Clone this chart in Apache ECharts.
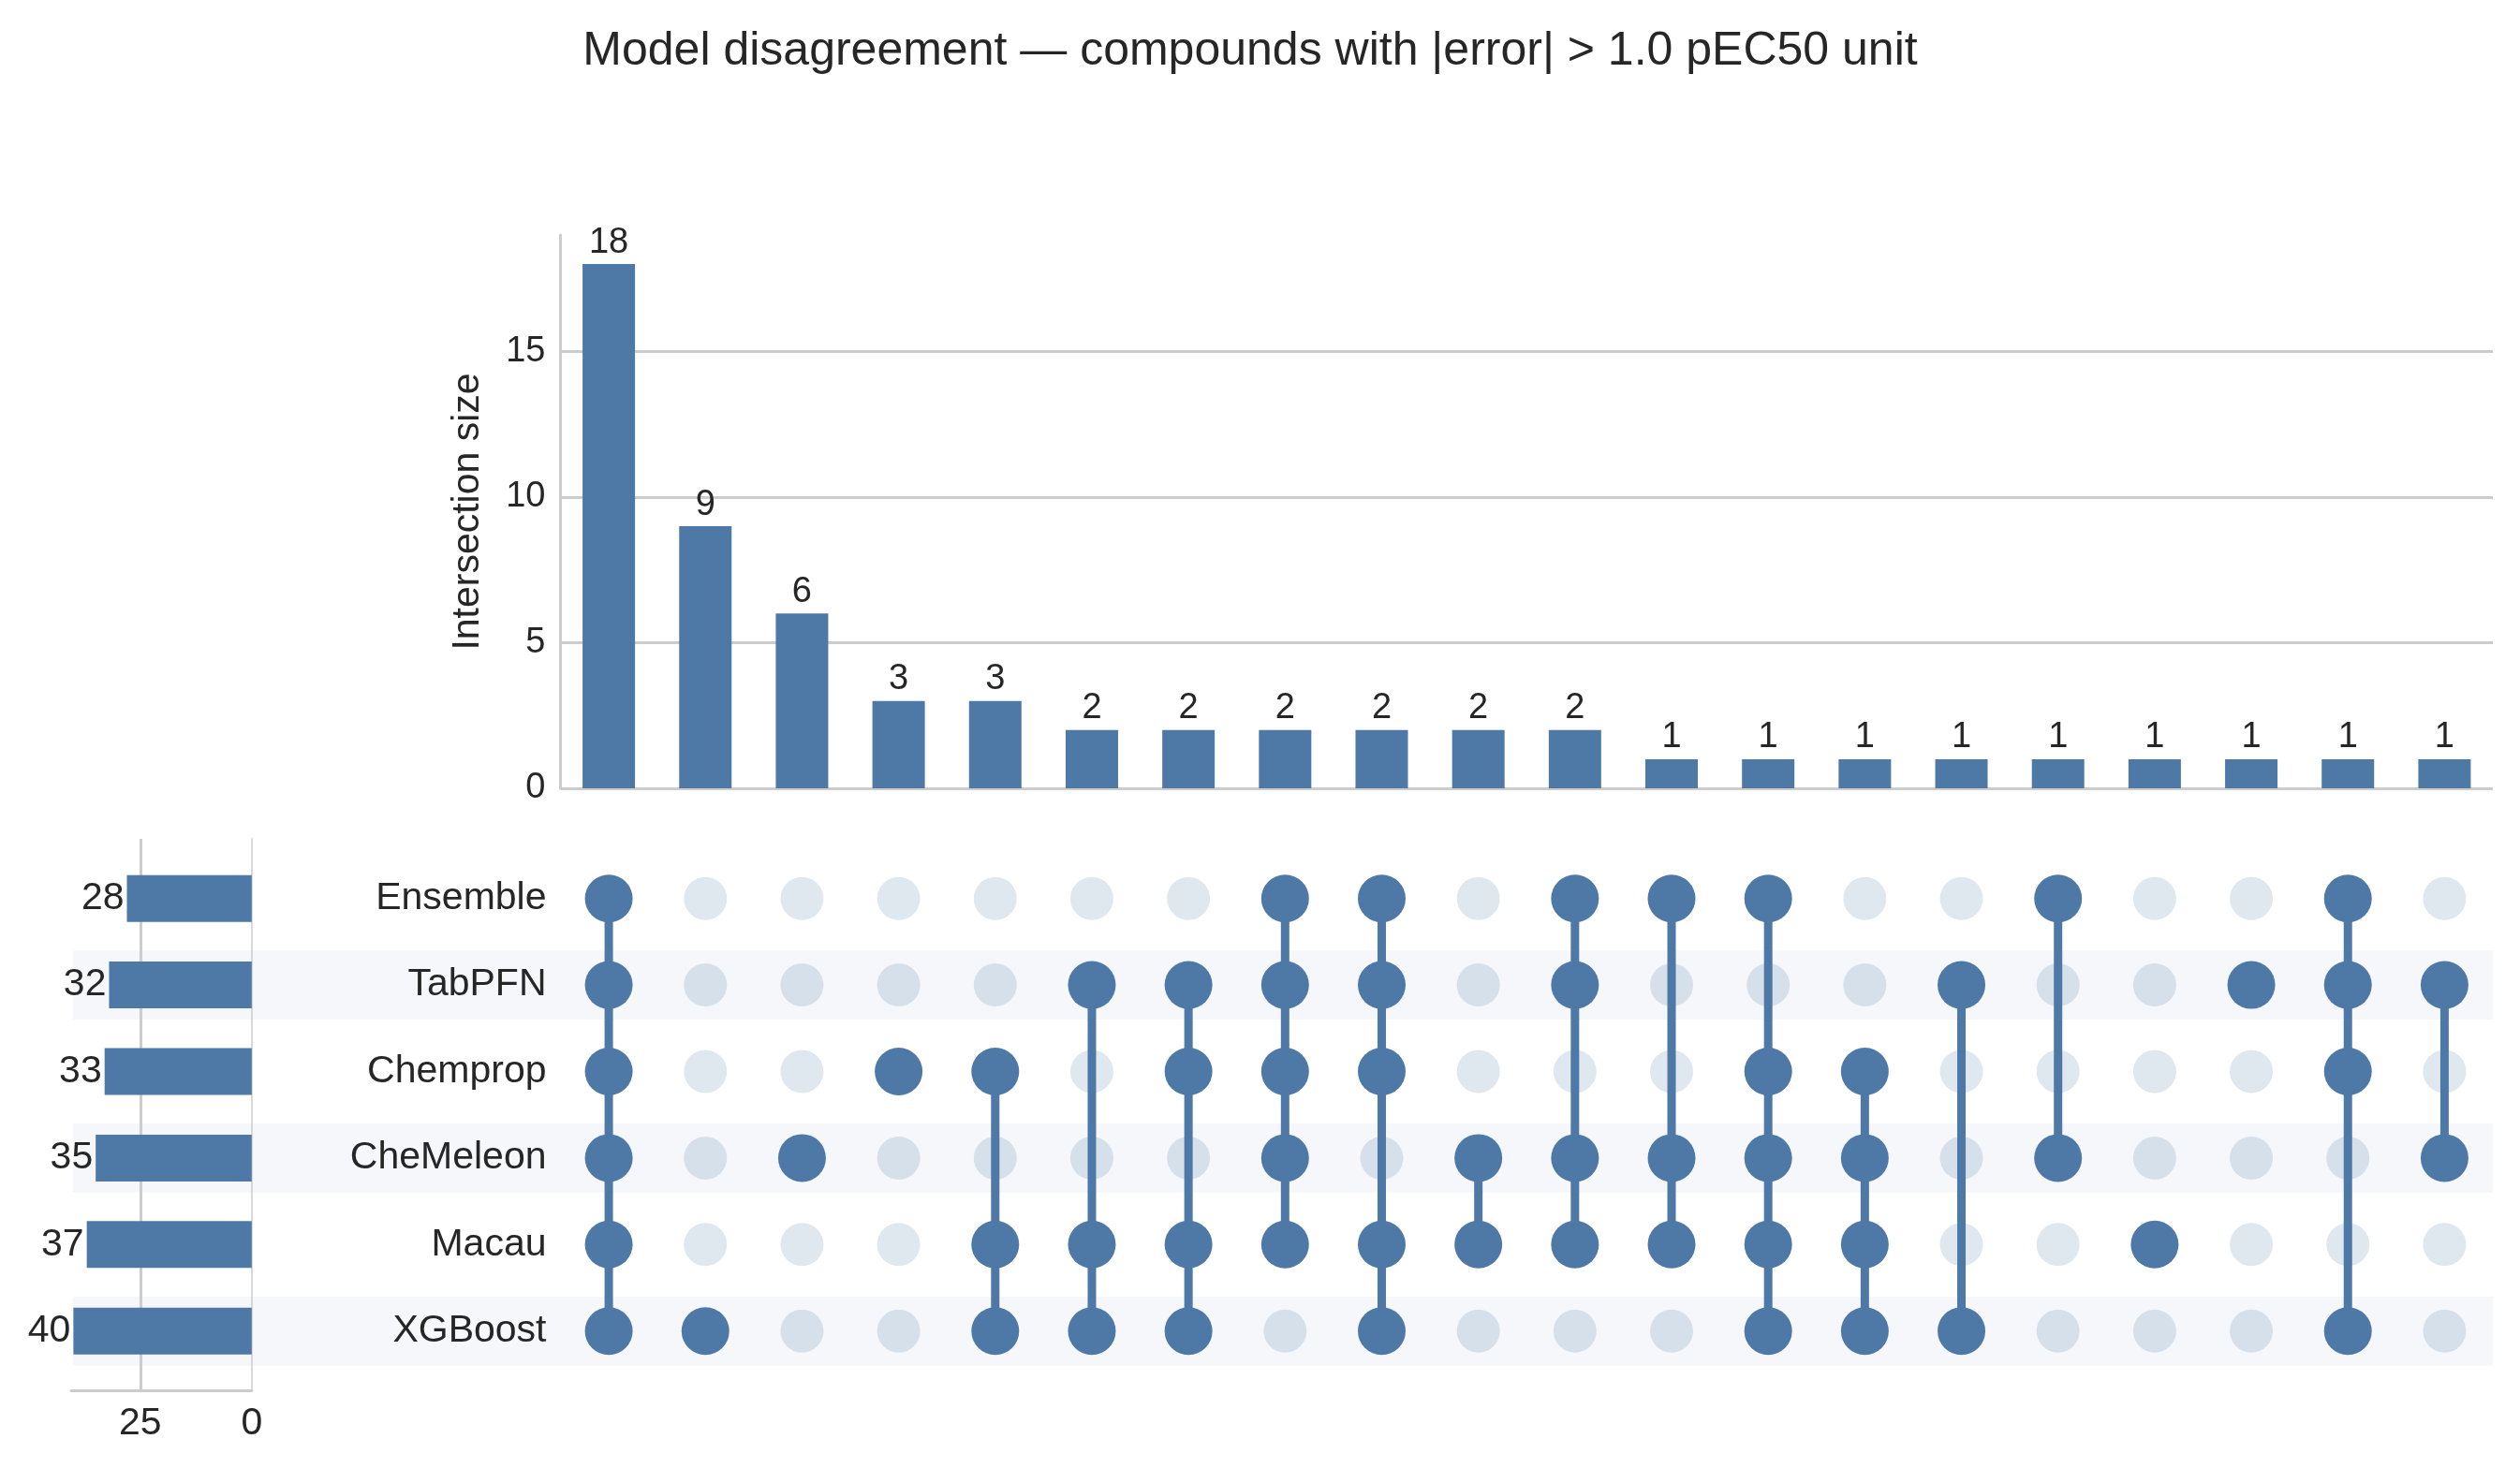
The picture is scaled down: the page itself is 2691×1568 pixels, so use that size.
<!DOCTYPE html>
<html>
<head>
<meta charset="utf-8">
<title>Model disagreement</title>
<script src="https://cdn.jsdelivr.net/npm/echarts@6/dist/echarts.min.js"></script>
<style>
html, body { margin: 0; padding: 0; background: #fff; }
#chart { width: 2691px; height: 1568px; }
</style>
</head>
<body>
<div id="chart"></div>
<script>
// sets, top to bottom in the matrix
var sets = ['Ensemble', 'TabPFN', 'Chemprop', 'CheMeleon', 'Macau', 'XGBoost'];
var setSizes = [28, 32, 33, 35, 37, 40];
var intersectionSizes = [18, 9, 6, 3, 3, 2, 2, 2, 2, 2, 2, 1, 1, 1, 1, 1, 1, 1, 1, 1];
var memberships = [
	['Ensemble', 'TabPFN', 'Chemprop', 'CheMeleon', 'Macau', 'XGBoost'],
	['XGBoost'],
	['CheMeleon'],
	['Chemprop'],
	['Chemprop', 'Macau', 'XGBoost'],
	['TabPFN', 'Macau', 'XGBoost'],
	['TabPFN', 'Chemprop', 'Macau', 'XGBoost'],
	['Ensemble', 'TabPFN', 'Chemprop', 'CheMeleon', 'Macau'],
	['Ensemble', 'TabPFN', 'Chemprop', 'Macau', 'XGBoost'],
	['CheMeleon', 'Macau'],
	['Ensemble', 'TabPFN', 'CheMeleon', 'Macau'],
	['Ensemble', 'CheMeleon', 'Macau'],
	['Ensemble', 'Chemprop', 'CheMeleon', 'Macau', 'XGBoost'],
	['Chemprop', 'CheMeleon', 'Macau', 'XGBoost'],
	['TabPFN', 'XGBoost'],
	['Ensemble', 'CheMeleon'],
	['Macau'],
	['TabPFN'],
	['Ensemble', 'TabPFN', 'Chemprop', 'XGBoost'],
	['TabPFN', 'CheMeleon']
];
var rowShade = [0, 1, 0, 1, 0, 1];

var BLUE = '#4e79a7';
var TEXT = '#262626';
var GRID = '#cccccc';
var FONT = "'Liberation Sans', Arial, sans-serif";

function renderUpset() {
	var chart = echarts.init(document.getElementById('chart'));

	var cols = [];
	var active = [];
	var inactive = [];
	var links = [];
	for (var c = 0; c < memberships.length; c++) {
		cols.push(String(c));
		var rows = [];
		for (var r = 0; r < sets.length; r++) {
			if (memberships[c].indexOf(sets[r]) >= 0) {
				active.push([c, r]);
				rows.push(r);
			} else {
				inactive.push([c, r]);
			}
		}
		if (rows.length > 1) {
			links.push([c, Math.min.apply(null, rows), Math.max.apply(null, rows)]);
		}
	}

	var option = {
		animation: false,
		backgroundColor: '#ffffff',
		textStyle: { fontFamily: FONT, color: TEXT },
		title: {
			text: 'Model disagreement \u2014 compounds with |error| > 1.0 pEC50 unit',
			left: 1330,
			top: 25,
			textAlign: 'center',
			textStyle: { fontSize: 50, fontWeight: 'normal', color: TEXT, fontFamily: FONT }
		},
		grid: [
			{ left: 598.5, right: 29, top: 251, height: 591 },      // intersection bars
			{ left: 598.5, right: 29, top: 913.5, height: 554.4 },  // matrix
			{ left: 76, width: 192.8, top: 913.5, height: 554.4 },   // set size bars
			{ left: 76, width: 192.8, top: 896, height: 589 },       // set size axis frame
			{ left: 78, right: 29, top: 913.5, height: 554.4 }       // row shading
		],
		xAxis: [
			{
				type: 'category', gridIndex: 0, data: cols,
				axisLine: { show: false }, axisTick: { show: false }, axisLabel: { show: false }
			},
			{
				type: 'category', gridIndex: 1, data: cols, show: false
			},
			{
				type: 'value', gridIndex: 2, inverse: true, min: 0, max: 40.5, show: false
			},
			{
				type: 'value', gridIndex: 3, inverse: true, min: 0, max: 40.5, interval: 25, z: 1,
				axisLine: { show: true, lineStyle: { color: GRID, width: 3 } },
				axisTick: { show: false },
				axisLabel: { fontSize: 41, color: TEXT, margin: 15, showMaxLabel: false, fontFamily: FONT },
				splitLine: { show: true, showMinLine: false, showMaxLine: false, lineStyle: { color: GRID, width: 3 } }
			},
			{
				type: 'value', gridIndex: 4, min: 0, max: 1, show: false
			}
		],
		yAxis: [
			{
				type: 'value', gridIndex: 0, min: 0, max: 19, interval: 5,
				axisLine: { show: true, lineStyle: { color: GRID, width: 3 } },
				axisTick: { show: false },
				axisLabel: { fontSize: 38, color: TEXT, margin: 16, showMaxLabel: false, fontFamily: FONT },
				splitLine: { show: true, showMaxLine: false, lineStyle: { color: GRID, width: 3 } },
				name: 'Intersection size',
				nameLocation: 'middle',
				nameGap: 78,
				nameTextStyle: { fontSize: 41, color: TEXT, fontFamily: FONT }
			},
			{
				type: 'category', gridIndex: 1, data: sets, inverse: true,
				axisLine: { show: false }, axisTick: { show: false },
				axisLabel: { fontSize: 41, color: TEXT, margin: 15, fontFamily: FONT }
			},
			{
				type: 'category', gridIndex: 2, data: sets, inverse: true, show: false
			},
			{
				type: 'value', gridIndex: 3, min: 0, max: 1, z: 1,
				axisLine: { show: true, onZero: true, lineStyle: { color: GRID, width: 1.5 } },
				axisTick: { show: false }, axisLabel: { show: false }, splitLine: { show: false }
			},
			{
				type: 'category', gridIndex: 4, data: sets, inverse: true, show: false
			}
		],
		series: [
			{
				name: 'shade',
				type: 'bar',
				xAxisIndex: 4, yAxisIndex: 4,
				data: rowShade,
				barWidth: '80%',
				silent: true,
				z: 0,
				itemStyle: { color: 'rgba(78,121,167,0.06)' }
			},
			{
				name: 'Intersection size',
				type: 'bar',
				xAxisIndex: 0, yAxisIndex: 0,
				data: intersectionSizes,
				barWidth: 56,
				itemStyle: { color: BLUE },
				label: { show: true, position: 'top', distance: 4, fontSize: 38, color: TEXT, fontFamily: FONT }
			},
			{
				name: 'Set size',
				type: 'bar',
				xAxisIndex: 2, yAxisIndex: 2,
				data: setSizes,
				barWidth: 50,
				itemStyle: { color: BLUE },
				label: { show: true, position: 'left', distance: 3, fontSize: 41, color: TEXT, fontFamily: FONT }
			},
			{
				name: 'off',
				type: 'scatter',
				xAxisIndex: 1, yAxisIndex: 1,
				data: inactive,
				symbolSize: 46,
				z: 2,
				itemStyle: { color: 'rgba(78,121,167,0.18)', opacity: 1 }
			},
			{
				name: 'links',
				type: 'custom',
				xAxisIndex: 1, yAxisIndex: 1,
				data: links,
				encode: { x: 0, y: [1, 2] },
				z: 3,
				renderItem: function(params, api) {
					var p1 = api.coord([api.value(0), api.value(1)]);
					var p2 = api.coord([api.value(0), api.value(2)]);
					return {
						type: 'line',
						shape: { x1: p1[0], y1: p1[1], x2: p2[0], y2: p2[1] },
						style: { stroke: BLUE, lineWidth: 9 }
					};
				}
			},
			{
				name: 'on',
				type: 'scatter',
				xAxisIndex: 1, yAxisIndex: 1,
				data: active,
				symbolSize: 51,
				z: 4,
				itemStyle: { color: BLUE, opacity: 1 }
			}
		]
	};
	chart.setOption(option);
}

renderUpset();
</script>
</body>
</html>
